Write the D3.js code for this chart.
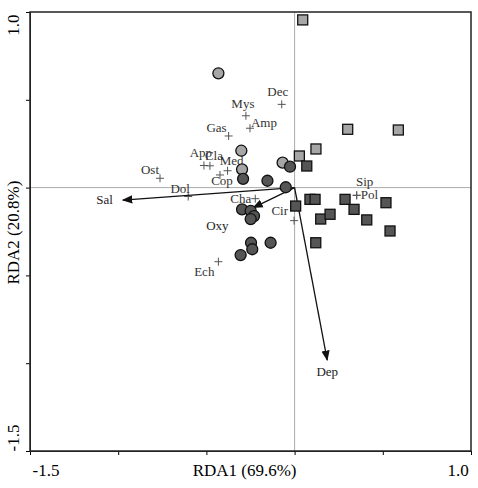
<!DOCTYPE html>
<html><head><meta charset="utf-8">
<script src="https://cdn.jsdelivr.net/npm/d3@7"></script>
<style>body{margin:0;background:#fff}text{font-family:"Liberation Serif","Times New Roman",Tinos,Times,serif}</style>
</head><body><svg id="chart" width="478" height="488"></svg>
<script>
"use strict";
// site scores [RDA1, RDA2]
const lightSquares = [[0.046,0.955],[0.301,0.332],[0.588,0.328],[0.121,0.220],[0.027,0.180]]
const darkSquares = [[0.069,0.123],[0.006,-0.105],[0.087,-0.067],[0.116,-0.067],[0.286,-0.067],[0.337,-0.124],[0.409,-0.184],[0.518,-0.086],[0.541,-0.247],[0.148,-0.179],[0.201,-0.152],[0.120,-0.314]]
const lightCircles = [[-0.432,0.651],[-0.302,0.210],[-0.068,0.142],[-0.298,0.104]]
const darkCircles = [[-0.026,0.119],[-0.292,0.050],[-0.154,0.039],[-0.050,0.002],[-0.298,-0.124],[-0.249,-0.132],[-0.230,-0.162],[-0.249,-0.179],[-0.247,-0.314],[-0.136,-0.314],[-0.240,-0.351],[-0.306,-0.384]]
// species: name, x, y, label dx, dy, anchor
const species = [
   ['Dec',-0.073,0.474,-4,-8,'middle'],['Mys',-0.276,0.409,-3,-8,'middle'],['Amp',-0.253,0.338,1,-1,'start'],
   ['Gas',-0.374,0.294,-2,-4,'end'],['App',-0.514,0.126,-3,-8,'middle'],['Cla',-0.480,0.124,4,-6,'middle'],
   ['Med',-0.380,0.096,4,-6,'middle'],['Cop',-0.423,0.072,2,10,'middle'],['Ost',-0.763,0.053,-1,-4,'end'],
   ['Dol',-0.603,-0.051,-8,-4,'middle'],['Cha',-0.223,-0.063,-4,4,'end'],['Cir',-0.003,-0.188,-6,-6,'end'],
   ['Sip',0.352,-0.044,8,-9,'middle'],['Pol',0.352,-0.044,4,4,'start'],['Ech',-0.432,-0.422,-4,14,'end']
]
// environmental vectors: name, x, y, label dx, dy
const envVars = [['Sal',-0.973,-0.071,-10,4],['Oxy',-0.234,-0.114,-36,22],['Dep',0.185,-0.982,0,16]]
const xTicks = [-1.5, 1.0], yTicks = [1.0, -1.5]

const svg = d3.select('#chart')
const x = d3.scaleLinear().domain([-1.5, 1.0]).range([30, 471])
const y = d3.scaleLinear().domain([-1.5, 1.0]).range([451, 12])

svg.append('defs').append('marker').attr('id', 'arr').attr('viewBox', '0 0 10 10')
   .attr('refX', 9).attr('refY', 5).attr('markerWidth', 8).attr('markerHeight', 8).attr('orient', 'auto')
   .append('path').attr('d', 'M0,1L10,5L0,9z').attr('fill', '#111')

svg.append('line').attr('x1', x(0)).attr('x2', x(0)).attr('y1', y(1)).attr('y2', y(-1.5)).attr('stroke', '#aaa')
svg.append('line').attr('x1', x(-1.5)).attr('x2', x(1)).attr('y1', y(0)).attr('y2', y(0)).attr('stroke', '#aaa')

svg.append('g').attr('transform', `translate(0,${y(-1.5)})`)
   .call(d3.axisBottom(x).tickValues(d3.range(-1.5, 1.01, 0.5)).tickSize(4).tickFormat(''))
svg.append('g').attr('transform', `translate(${x(-1.5)},0)`)
   .call(d3.axisLeft(y).tickValues(d3.range(-1.5, 1.01, 0.5)).tickSize(4).tickFormat(''))
svg.append('rect').attr('x', x(-1.5)).attr('y', y(1)).attr('width', x(1) - x(-1.5)).attr('height', y(-1.5) - y(1))
   .attr('fill', 'none').attr('stroke', '#222').attr('stroke-width', 1.5)
svg.selectAll('.domain').attr('stroke', '#222')

svg.selectAll('.xt').data(xTicks).enter().append('text').attr('x', d => x(d) + (d < 0 ? 16 : -13)).attr('y', 476)
   .attr('text-anchor', 'middle').attr('font-size', 17).text(d => d.toFixed(1))
svg.selectAll('.yt').data(yTicks).enter().append('text')
   .attr('transform', d => `translate(19,${y(d) + (d > 0 ? 13 : -13)}) rotate(-90)`).attr('text-anchor', 'middle')
   .attr('font-size', 17).text(d => d.toFixed(1))
svg.append('text').attr('x', x(0) - 50).attr('y', 476).attr('text-anchor', 'middle').attr('font-size', 17).text('RDA1 (69.6%)')
svg.append('text').attr('transform', `translate(19,${y(0) + 45}) rotate(-90)`).attr('text-anchor', 'middle')
   .attr('font-size', 17).text('RDA2 (20.8%)')

// species crosses
const sp = svg.append('g')
sp.selectAll('path').data(species).enter().append('path')
   .attr('d', d => `M${x(d[1]) - 4},${y(d[2])}h8M${x(d[1])},${y(d[2]) - 4}v8`).attr('stroke', '#555')
sp.selectAll('text').data(species).enter().append('text')
   .attr('x', d => x(d[1]) + d[3]).attr('y', d => y(d[2]) + d[4]).attr('text-anchor', d => d[5])
   .attr('font-size', 13).attr('fill', '#333').text(d => d[0])

// env arrows
svg.selectAll('.ev').data(envVars).enter().append('line')
   .attr('x1', x(0)).attr('y1', y(0)).attr('x2', d => x(d[1])).attr('y2', d => y(d[2]))
   .attr('stroke', '#111').attr('stroke-width', 1.3).attr('marker-end', 'url(#arr)')

// sites
const sites = svg.append('g').attr('stroke', '#111').attr('stroke-width', 1.3)
sites.selectAll('.c1').data(lightCircles).enter().append('circle')
   .attr('cx', d => x(d[0])).attr('cy', d => y(d[1])).attr('r', 5.5).attr('fill', '#a6a6a6')
sites.selectAll('.c2').data(darkCircles).enter().append('circle')
   .attr('cx', d => x(d[0])).attr('cy', d => y(d[1])).attr('r', 5.5).attr('fill', '#555')
sites.selectAll('.s1').data(lightSquares).enter().append('rect')
   .attr('x', d => x(d[0]) - 5).attr('y', d => y(d[1]) - 5).attr('width', 10).attr('height', 10).attr('fill', '#a6a6a6')
sites.selectAll('.s2').data(darkSquares).enter().append('rect')
   .attr('x', d => x(d[0]) - 5).attr('y', d => y(d[1]) - 5).attr('width', 10).attr('height', 10).attr('fill', '#555')

svg.selectAll('.el').data(envVars).enter().append('text')
   .attr('x', d => x(d[1]) + d[3]).attr('y', d => y(d[2]) + d[4])
   .attr('text-anchor', d => d[0] === 'Sal' ? 'end' : 'middle').attr('font-size', 13).attr('fill', '#222').text(d => d[0])
</script></body></html>
